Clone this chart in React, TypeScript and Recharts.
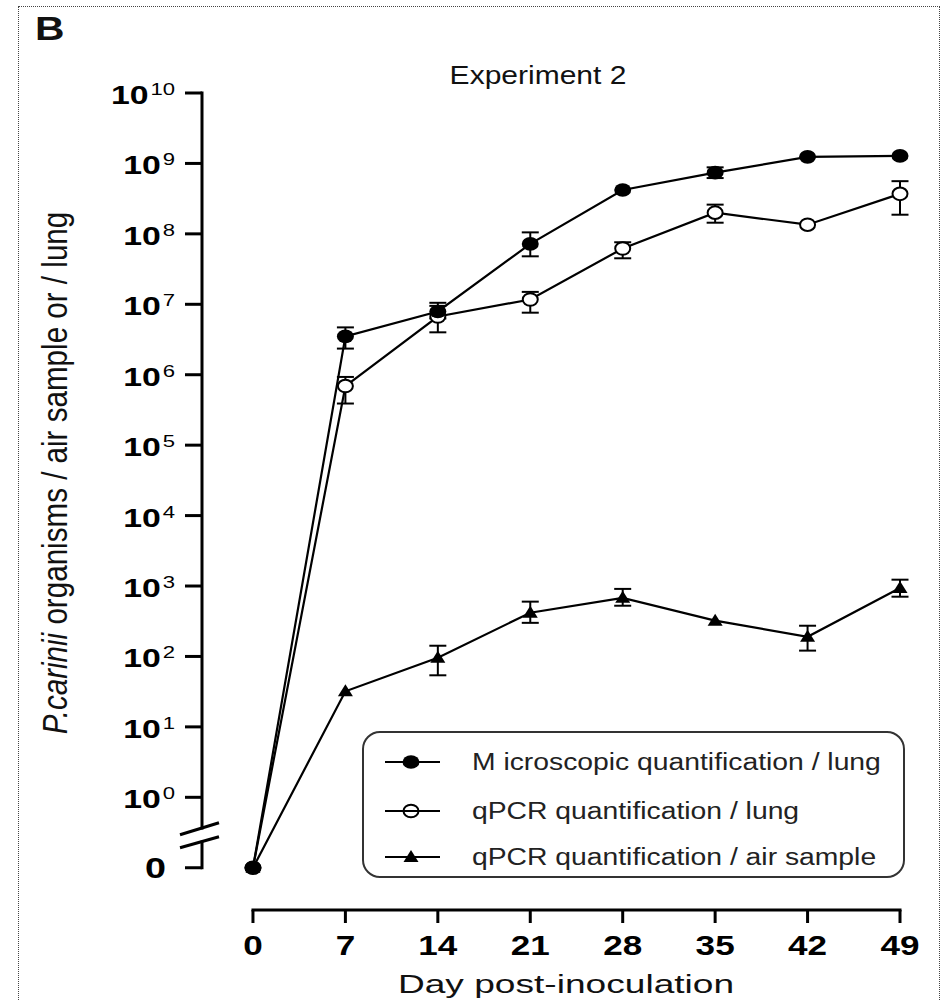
import React from 'react';
import { ComposedChart, Line, XAxis, YAxis, ErrorBar, ReferenceLine, Legend } from 'recharts';

// ---------- data ----------
const DAYS = [0, 7, 14, 21, 28, 35, 42, 49];

// Microscopic quantification / lung (filled circles)
const MICRO = [0, 3.5e6, 7.9e6, 7.2e7, 4.2e8, 7.4e8, 1.24e9, 1.28e9];
const MICRO_LO = [null, 2.35e6, 6.3e6, 4.8e7, null, 6.2e8, null, null];
const MICRO_HI = [null, 4.7e6, 1.05e7, 1.05e8, null, 8.8e8, null, null];

// qPCR quantification / lung (open circles)
const PCR = [0, 6.9e5, 6.7e6, 1.17e7, 6.2e7, 2.0e8, 1.35e8, 3.7e8];
const PCR_LO = [null, 3.9e5, 4.0e6, 7.6e6, 4.5e7, 1.44e8, null, 1.87e8];
const PCR_HI = [null, 9.3e5, 9.5e6, 1.5e7, 7.6e7, 2.6e8, null, 5.6e8];

// qPCR quantification / air sample (triangles)
const AIR = [0, 32, 96, 417, 680, 322, 190, 940];
const AIR_LO = [null, null, 54, 300, 525, null, 121, 705];
const AIR_HI = [null, null, 142, 600, 910, null, 273, 1230];

const LEGEND_LABELS = [
  'M icroscopic quantification / lung',
  'qPCR quantification / lung',
  'qPCR quantification / air sample',
];

const TITLE = 'Experiment 2';
const PANEL = 'B';
const X_LABEL = 'Day post-inoculation';
const Y_LABEL_ITALIC = 'P.carinii';
const Y_LABEL_REST = ' organisms / air sample or / lung';

// y ticks are decades (log10 positions); the value 0 sits one decade under 10^0
const ZERO_POS = -1;
const Y_TICKS = [-1, 0, 1, 2, 3, 4, 5, 6, 7, 8, 9, 10];
const ZERO_LABEL = '0';
const DECADE_BASE = '10';
const Y_TICK_EXPONENTS = ['0', '1', '2', '3', '4', '5', '6', '7', '8', '9', '10'];

// ---------- layout constants ----------
const FONT = "'Liberation Sans', Arial, Helvetica, sans-serif";
const AXIS_X = -3.86; // x position (in days) of the y axis line
const Y_MIN = -1.6; // bottom of plot (where the x axis line sits)
const BREAK_TOP = -0.436;
const BREAK_BOTTOM = -0.636;

const toLog = (v: number) => (v > 0 ? Math.log10(v) : ZERO_POS);
const errOf = (v: number, lo: number | null, hi: number | null) =>
  lo == null || hi == null ? null : [Math.log10(v) - Math.log10(lo), Math.log10(hi) - Math.log10(v)];

const data = DAYS.map((d, i) => ({
  day: d,
  micro: toLog(MICRO[i]),
  microErr: errOf(MICRO[i], MICRO_LO[i], MICRO_HI[i]),
  pcr: toLog(PCR[i]),
  pcrErr: errOf(PCR[i], PCR_LO[i], PCR_HI[i]),
  air: toLog(AIR[i]),
  airErr: errOf(AIR[i], AIR_LO[i], AIR_HI[i]),
}));

// ---------- markers ----------
const FilledMark = ({ cx, cy }: { cx: number; cy: number }) => (
  <ellipse cx={cx} cy={cy} rx={8.5} ry={6.8} fill="#000" />
);
const OpenMark = ({ cx, cy, fill = '#fff' }: { cx: number; cy: number; fill?: string }) => (
  <ellipse cx={cx} cy={cy} rx={7.5} ry={6.3} fill={fill} stroke="#000" strokeWidth={2} />
);
const TriMark = ({ cx, cy }: { cx: number; cy: number }) => (
  <polygon points={`${cx},${cy - 7} ${cx - 7.5},${cy + 5} ${cx + 7.5},${cy + 5}`} fill="#000" />
);

const dotFn = (Mark: any, prefix: string) => (p: any) => {
  if (p.cx == null || p.cy == null || isNaN(p.cx) || isNaN(p.cy)) return <g key={`${prefix}-${p.index}`} />;
  return (
    <g key={`${prefix}-${p.index}`}>
      <Mark cx={p.cx} cy={p.cy} />
    </g>
  );
};

// ---------- axis ticks ----------
const YTick = (p: any) => {
  const v = p.payload.value;
  const ax = p.x + 19; // axis line position
  if (v === ZERO_POS) {
    return (
      <g>
        <text
          transform={`translate(${p.x - 17},${p.y + 10}) scale(1.3,1)`}
          textAnchor="end"
          fontSize={29}
          fontWeight="bold"
          fill="#000"
          fontFamily={FONT}
        >
          {ZERO_LABEL}
        </text>
        <line x1={ax - 22} y1={p.y - 33} x2={ax + 17} y2={p.y - 45} stroke="#000" strokeWidth={3} />
        <line x1={ax - 22} y1={p.y - 20} x2={ax + 17} y2={p.y - 31} stroke="#000" strokeWidth={3} />
      </g>
    );
  }
  return (
    <text
      transform={`translate(${p.x - 8},${p.y + 11}) scale(1.3,1)`}
      textAnchor="end"
      fill="#000"
      fontFamily={FONT}
    >
      <tspan fontSize={26} fontWeight="bold">
        {DECADE_BASE}
      </tspan>
      <tspan fontSize={17} dx={1.5} dy={-9}>
        {Y_TICK_EXPONENTS[v]}
      </tspan>
    </text>
  );
};

const XTick = (p: any) => (
  <text
    transform={`translate(${p.x},${p.y + 30}) scale(1.3,1)`}
    textAnchor="middle"
    fontSize={27}
    fontWeight="bold"
    fill="#000"
    fontFamily={FONT}
  >
    {p.payload.value}
  </text>
);

const YLabel = () => (
  <text
    transform="translate(67,473) scale(1.2,1) rotate(-90)"
    textAnchor="middle"
    fontSize={29.6}
    fill="#111"
    fontFamily={FONT}
  >
    <tspan fontStyle="italic">{Y_LABEL_ITALIC}</tspan>
    <tspan>{Y_LABEL_REST}</tspan>
  </text>
);

const XLabel = () => (
  <text
    transform="translate(566,993) scale(1.45,1)"
    textAnchor="middle"
    fontSize={25.6}
    fill="#111"
    fontFamily={FONT}
  >
    {X_LABEL}
  </text>
);

// ---------- legend ----------
const ROW_CENTERS = [29, 78, 124];

const LegendMark = ({ i }: { i: number }) => {
  if (i === 0) return <FilledMark cx={47} cy={20} />;
  if (i === 1) return <OpenMark cx={47} cy={20} fill="none" />;
  return <TriMark cx={47} cy={20} />;
};

const LegendBox = () => (
  <div
    style={{
      position: 'relative',
      width: 543,
      height: 147,
      boxSizing: 'border-box',
      border: '2px solid #333',
      borderRadius: 18,
      background: '#fff',
      fontFamily: FONT,
    }}
  >
    {LEGEND_LABELS.map((label, i) => (
      <div
        key={label}
        style={{ position: 'absolute', left: 0, top: ROW_CENTERS[i] - 20, width: '100%', height: 40 }}
      >
        <svg width={100} height={40} style={{ position: 'absolute', left: 0, top: 0 }}>
          <line x1={21} x2={76} y1={20} y2={20} stroke="#000" strokeWidth={2} />
          <LegendMark i={i} />
        </svg>
        <span
          style={{
            position: 'absolute',
            left: 108,
            top: 0,
            lineHeight: '40px',
            fontSize: 23,
            color: '#222',
            whiteSpace: 'nowrap',
            transform: 'scaleX(1.23)',
            transformOrigin: 'left center',
          }}
        >
          {label}
        </span>
      </div>
    ))}
  </div>
);

export default function App() {
  return (
    <div
      style={{
        position: 'absolute',
        left: 0,
        top: 0,
        width: 944,
        height: 1000,
        overflow: 'hidden',
        background: '#fff',
        fontFamily: FONT,
      }}
    >
      <div
        style={{
          position: 'absolute',
          left: 18,
          top: 6,
          width: 922,
          height: 1000,
          border: '1px dotted #444',
          boxSizing: 'border-box',
        }}
      />
      <div
        style={{
          position: 'absolute',
          left: 35,
          top: 11,
          fontSize: 34,
          lineHeight: 1,
          fontWeight: 'bold',
          color: '#111',
          transform: 'scaleX(1.2)',
          transformOrigin: 'left top',
          zIndex: 2,
        }}
      >
        {PANEL}
      </div>
      <div
        style={{
          position: 'absolute',
          left: 538,
          top: 63,
          fontSize: 25,
          lineHeight: 1,
          color: '#111',
          whiteSpace: 'nowrap',
          transform: 'translateX(-50%) scaleX(1.2)',
          zIndex: 2,
        }}
      >
        {TITLE}
      </div>
      <div style={{ position: 'absolute', left: 0, top: 0 }}>
        <ComposedChart
          width={944}
          height={1000}
          data={data}
          margin={{ top: 93, right: 44, bottom: 10, left: 52 }}
          style={{ fontFamily: FONT }}
        >
          <XAxis
            type="number"
            dataKey="day"
            domain={[AXIS_X, 49]}
            ticks={DAYS}
            interval={0}
            axisLine={false}
            tickLine={{ stroke: '#000', strokeWidth: 3 }}
            tickSize={13}
            tick={XTick}
            height={80}
            label={XLabel}
          />
          <YAxis
            type="number"
            domain={[Y_MIN, 10]}
            ticks={Y_TICKS}
            interval={0}
            axisLine={false}
            tickLine={{ stroke: '#000', strokeWidth: 3 }}
            tickSize={17}
            tick={YTick}
            width={150}
            label={YLabel}
          />
          <ReferenceLine
            segment={[
              { x: AXIS_X, y: 10 },
              { x: AXIS_X, y: BREAK_TOP },
            ]}
            stroke="#000"
            strokeWidth={3}
            strokeLinecap="square"
            ifOverflow="visible"
          />
          <ReferenceLine
            segment={[
              { x: AXIS_X, y: BREAK_BOTTOM },
              { x: AXIS_X, y: ZERO_POS },
            ]}
            stroke="#000"
            strokeWidth={3}
            strokeLinecap="square"
            ifOverflow="visible"
          />
          <ReferenceLine
            segment={[
              { x: 0, y: Y_MIN },
              { x: 49, y: Y_MIN },
            ]}
            stroke="#000"
            strokeWidth={3}
            strokeLinecap="square"
            ifOverflow="visible"
          />
          <Legend
            layout="vertical"
            align="center"
            verticalAlign="middle"
            content={LegendBox}
            wrapperStyle={{ left: 362, top: 731, width: 543, height: 147 }}
          />
          <Line
            type="linear"
            dataKey="air"
            name={LEGEND_LABELS[2]}
            stroke="#000"
            strokeWidth={2.2}
            dot={dotFn(TriMark, 'air')}
            activeDot={false}
            isAnimationActive={false}
          >
            <ErrorBar dataKey="airErr" width={8.5} strokeWidth={2} stroke="#000" direction="y" isAnimationActive={false} />
          </Line>
          <Line
            type="linear"
            dataKey="pcr"
            name={LEGEND_LABELS[1]}
            stroke="#000"
            strokeWidth={2.2}
            dot={dotFn(OpenMark, 'pcr')}
            activeDot={false}
            isAnimationActive={false}
          >
            <ErrorBar dataKey="pcrErr" width={8.5} strokeWidth={2} stroke="#000" direction="y" isAnimationActive={false} />
          </Line>
          <Line
            type="linear"
            dataKey="micro"
            name={LEGEND_LABELS[0]}
            stroke="#000"
            strokeWidth={2.2}
            dot={dotFn(FilledMark, 'micro')}
            activeDot={false}
            isAnimationActive={false}
          >
            <ErrorBar dataKey="microErr" width={8.5} strokeWidth={2} stroke="#000" direction="y" isAnimationActive={false} />
          </Line>
        </ComposedChart>
      </div>
    </div>
  );
}
